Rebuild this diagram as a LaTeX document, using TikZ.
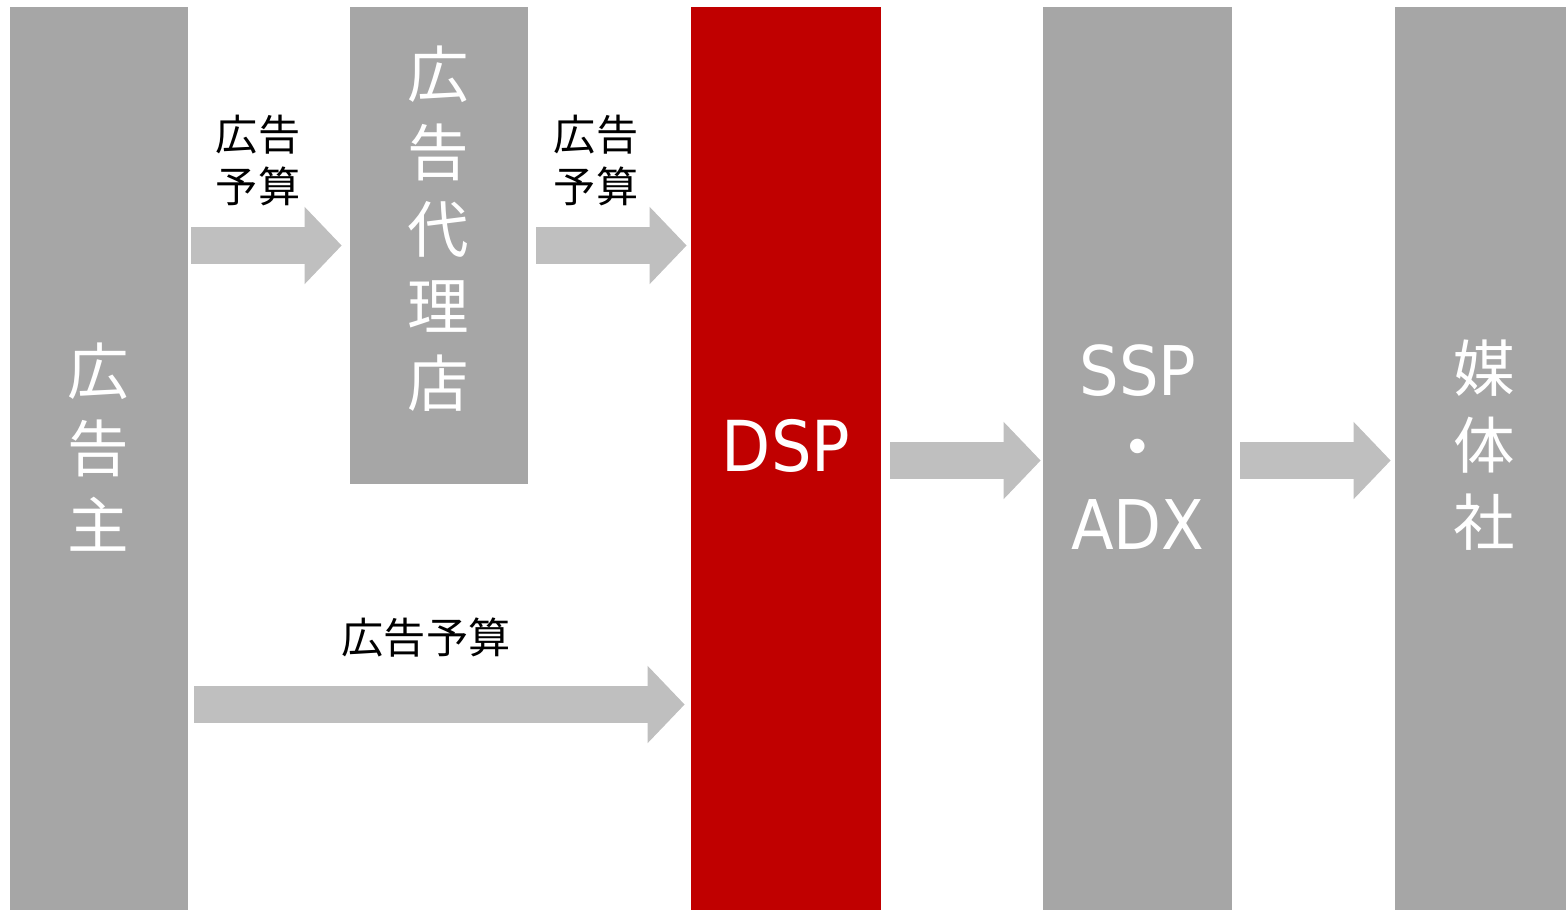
\documentclass[tikz,border=0pt]{standalone}
\usepackage{fontspec}
\setmainfont{DejaVu Sans}
\newfontfamily\cjk{Noto Sans CJK JP}
\newfontfamily\latinnarrow[FakeStretch=0.91]{DejaVu Sans}
\usetikzlibrary{arrows.meta}
\definecolor{bargray}{HTML}{A6A6A6}
\definecolor{dspred}{HTML}{C00000}
\definecolor{flowgray}{HTML}{BFBFBF}

\begin{document}
\begin{tikzpicture}[x=0.02cm, y=-0.02cm,
  bar/.style={rectangle, fill=bargray, inner sep=0pt},
  bartext/.style={text=white, align=center, inner sep=0pt, font=\cjk\fontsize{35}{44}\selectfont},
  flow/.style={draw=flowgray, line width=0.74cm, -{Triangle[length=0.74cm, width=1.5cm]}},
  budget/.style={align=center, inner sep=0pt, font=\cjk\fontsize{24}{30}\selectfont}]
  \useasboundingbox (0,0) rectangle (1566,910);
  % columns
  \node[bar, minimum width=3.56cm, minimum height=18.06cm] (advertiser) at (99,458.5) {};
  \node[bar, minimum width=3.56cm, minimum height=9.54cm] (agency) at (439,245.5) {};
  \node[bar, fill=dspred, minimum width=3.8cm, minimum height=18.06cm] (dsp) at (786,458.5) {};
  \node[bar, minimum width=3.78cm, minimum height=18.06cm] (ssp) at (1137.5,458.5) {};
  \node[bar, minimum width=3.42cm, minimum height=18.06cm] (media) at (1480.5,458.5) {};
  % column texts
  \node[bartext] (advertisertxt) at (98,447) {広\\告\\主};
  \node[bartext] (agencytxt) at (438,229) {広\\告\\代\\理\\店};
  \node[bartext, font=\latinnarrow\fontsize{40}{44}\selectfont] (dsptxt) at (786,446) {DSP};
  \node[bartext, font=\latinnarrow\fontsize{39}{44}\selectfont] (ssptxt) at (1138,447) {SSP\\{\cjk ・}\\ADX};
  \node[bartext] (mediatxt) at (1484,445) {媒\\体\\社};
  % flows
  \coordinate (row1) at (0,245.5);
  \coordinate (row2) at (0,460.5);
  \coordinate (row3) at (0,704.5);
  \draw[flow, shorten <=0.06cm, shorten >=0.16cm] (advertiser.east |- row1) -- (agency.west |- row1);
  \draw[flow, shorten <=0.16cm, shorten >=0.08cm] (agency.east |- row1) -- (dsp.west |- row1);
  \draw[flow, shorten <=0.12cm, shorten >=0.12cm] (advertiser.east |- row3) -- (dsp.west |- row3);
  \draw[flow, shorten <=0.18cm, shorten >=0.04cm] (dsp.east |- row2) -- (ssp.west |- row2);
  \draw[flow, shorten <=0.16cm, shorten >=0.08cm] (ssp.east |- row2) -- (media.west |- row2);
  % budget labels
  \node[budget] (budget1) at (258,160.5) {広告\\予算};
  \node[budget] (budget2) at (596,160.5) {広告\\予算};
  \node[budget] (budget3) at (426,638) {広告予算};
\end{tikzpicture}
\end{document}
